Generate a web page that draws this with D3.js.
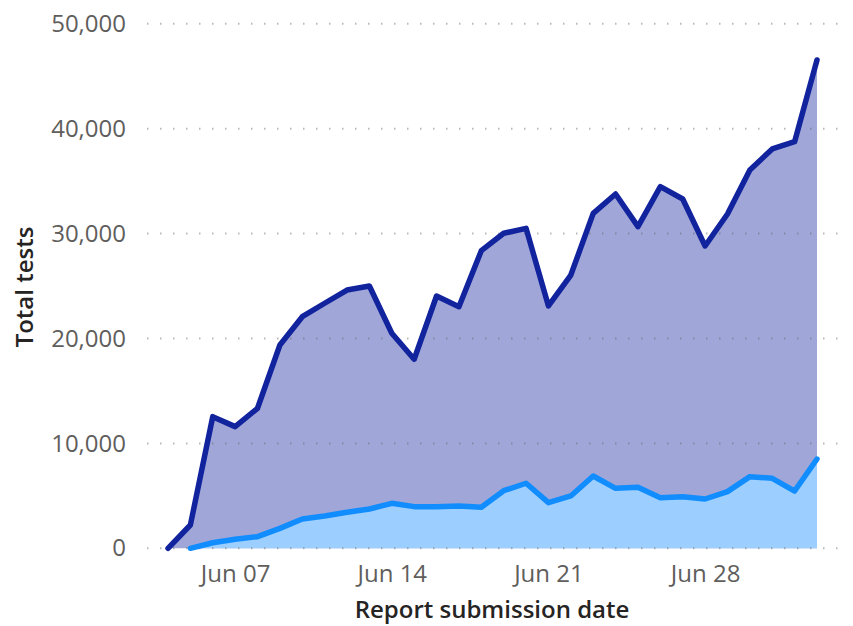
<!DOCTYPE html>
<html>
<head>
<meta charset="utf-8">
<script src="https://cdn.jsdelivr.net/npm/d3@7"></script>
<style>
  body { margin: 0; background: #fff; }
  svg text { font-family: "Open Sans", "Noto Sans", sans-serif; }
</style>
</head>
<body>
<div id="chart"></div>
<script>
// report dates, Jun 04 .. Jul 03
let dates = d3.timeDays(new Date(2020, 5, 4), new Date(2020, 6, 4));

// total tests (dark series)
let totalTests = [0, 2220, 12550, 11600, 13350, 19380, 22080, 23360, 24620, 25000,
  20500, 18020, 24050, 23030, 28370, 30030, 30500, 23100, 26050, 31930,
  33775, 30660, 34470, 33300, 28820, 31870, 36060, 38070, 38760, 46550];

// second series (light), starts Jun 05
let otherTests = [null, 0, 530, 860, 1110, 1900, 2790, 3080, 3430, 3750,
  4290, 3970, 3970, 4030, 3910, 5490, 6200, 4350, 4990, 6890,
  5720, 5815, 4820, 4920, 4700, 5400, 6830, 6670, 5460, 8510];

let yTicks = [0, 10000, 20000, 30000, 40000, 50000];
let xTickDates = [new Date(2020, 5, 7), new Date(2020, 5, 14), new Date(2020, 5, 21), new Date(2020, 5, 28)];

let width = 853;
let height = 626;

let x = d3.scaleTime()
  .domain([dates[0], dates[dates.length - 1]])
  .range([168, 817]);

let y = d3.scaleLinear()
  .domain([0, 50000])
  .range([548.3, 23.8]);

let svg = d3.select("#chart").append("svg")
  .attr("width", width)
  .attr("height", height);

let dark = dates.map((d, i) => ({ date: d, v: totalTests[i] }));
let light = dates.map((d, i) => ({ date: d, v: otherTests[i] })).filter(d => d.v != null);

let area = d3.area()
  .x(d => x(d.date))
  .y0(y(0))
  .y1(d => y(d.v));

let line = d3.line()
  .x(d => x(d.date))
  .y(d => y(d.v));

// areas
svg.append("path").datum(dark)
  .attr("d", area)
  .attr("fill", "#a0a6d7");

svg.append("path").datum(light)
  .attr("d", area)
  .attr("fill", "#9ccfff");

// dotted gridlines drawn over the areas
let grid = svg.append("g");
grid.selectAll("line")
  .data(yTicks)
  .enter()
  .append("line")
  .attr("x1", 147)
  .attr("x2", 842)
  .attr("y1", d => y(d))
  .attr("y2", d => y(d))
  .attr("stroke", "rgba(100,100,100,0.45)")
  .attr("stroke-width", 2)
  .attr("stroke-dasharray", "1.5,11.5")
  .attr("stroke-linecap", "butt");

// lines
svg.append("path").datum(dark)
  .attr("d", line)
  .attr("fill", "none")
  .attr("stroke", "#12239e")
  .attr("stroke-width", 5.5)
  .attr("stroke-linejoin", "round")
  .attr("stroke-linecap", "round");

svg.append("path").datum(light)
  .attr("d", line)
  .attr("fill", "none")
  .attr("stroke", "#118dff")
  .attr("stroke-width", 5.5)
  .attr("stroke-linejoin", "round")
  .attr("stroke-linecap", "round");

// y axis labels
let yAxis = svg.append("g")
  .attr("transform", "translate(126,0)")
  .call(d3.axisLeft(y).tickValues(yTicks).tickFormat(d3.format(",")).tickSize(0).tickPadding(0));
yAxis.select(".domain").remove();
yAxis.selectAll("text")
  .attr("fill", "#605e5c")
  .style("font-size", "24px");

// x axis labels
let xAxis = svg.append("g")
  .attr("transform", "translate(0,565)")
  .call(d3.axisBottom(x).tickValues(xTickDates).tickFormat(d3.timeFormat("%b %d")).tickSize(0).tickPadding(0));
xAxis.select(".domain").remove();
xAxis.selectAll("text")
  .attr("fill", "#605e5c")
  .style("font-size", "24px");

// axis titles
svg.append("text")
  .attr("x", 492)
  .attr("y", 618)
  .attr("text-anchor", "middle")
  .attr("fill", "#252423")
  .style("font-size", "24px")
  .style("font-weight", 600)
  .text("Report submission date");

svg.append("text")
  .attr("transform", "translate(33,287) rotate(-90)")
  .attr("text-anchor", "middle")
  .attr("fill", "#252423")
  .style("font-size", "24px")
  .style("font-weight", 600)
  .text("Total tests");
</script>
</body>
</html>
